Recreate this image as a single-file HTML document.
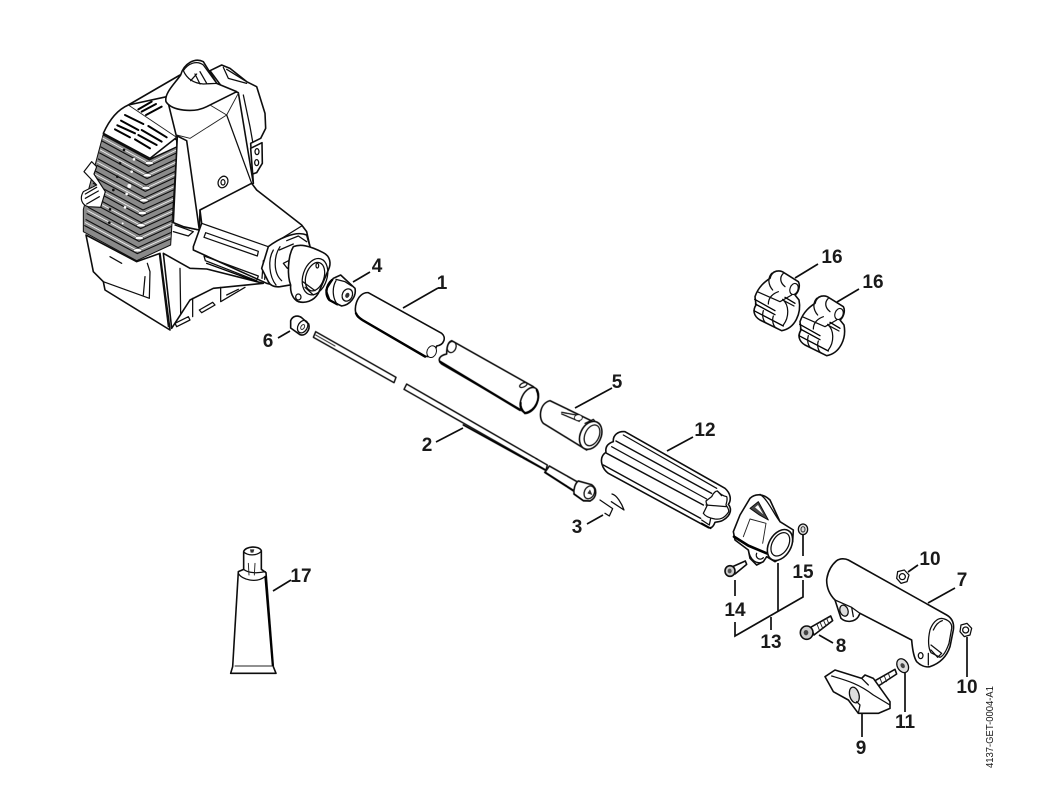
<!DOCTYPE html>
<html><head><meta charset="utf-8"><title>Parts diagram</title>
<style>
html,body{margin:0;padding:0;background:#fff;width:1045px;height:795px;overflow:hidden}
svg{display:block}
text{font-family:"Liberation Sans",sans-serif;font-weight:bold;font-size:19px;fill:#1a1a1a;text-anchor:middle}
.z path,.z ellipse,.z polygon,.z polyline,.z line,.z circle{stroke-linejoin:round;stroke-linecap:round}
.o{fill:#fff;stroke:#111;stroke-width:4.8}
.l{fill:none;stroke:#111;stroke-width:3.8}
.t{fill:none;stroke:#222;stroke-width:2.8}
.b{fill:none;stroke:#000;stroke-width:7}
.ld{stroke:#111;stroke-width:1.7;fill:none}
</style></head><body>
<svg width="1045" height="795" viewBox="0 0 1045 795" xmlns="http://www.w3.org/2000/svg">
<defs><filter id="bl" x="-5%" y="-5%" width="110%" height="110%"><feGaussianBlur stdDeviation="0.35"/></filter></defs>
<rect width="1045" height="795" fill="#fff"/>
<g filter="url(#bl)">

<!-- ENGINE -->
<g class="z" transform="translate(60,50) scale(.33333)">
 <!-- rear housing -->
 <path class="o" d="M450,62 L485,45 L510,55 L560,95 L590,110 L615,190 L617,235 L602,265 L572,280 L580,400 L500,130 Z"/>
 <path class="l" d="M490,52 L505,85 L560,100 M500,58 L555,92 M550,135 L570,230 L578,275"/>
 <!-- lug -->
 <path class="o" d="M572,295 L606,278 L607,340 L590,368 L578,372 Z"/>
 <ellipse class="l" cx="591" cy="305" rx="6" ry="9"/><ellipse class="l" cx="590" cy="338" rx="6" ry="9"/>
 <!-- main housing -->
 <path class="o" d="M205,165 L360,75 L535,128 L580,400 L420,480 L418,540 L370,530 L350,270 Z"/>
 <!-- top plate -->
 <path class="o" d="M130,250 C150,205 175,178 205,165 L320,140 L350,262 L270,325 Z"/>
 <path class="t" d="M205,165 L350,262"/>
 <path class="b" style="stroke-width:6" d="M235,178 L275,155 M245,185 L288,162 M258,195 L305,170"/>
 <path class="b" style="stroke-width:6" d="M195,195 L250,222 M183,212 L235,240 M172,226 L225,250 M165,238 L210,262"/>
 <path class="b" style="stroke-width:6" d="M265,228 L320,262 M245,240 L305,275 M235,255 L290,285 M225,268 L270,295"/>
 <!-- neck -->
 <path class="o" d="M362,75 C372,40 405,22 430,35 L470,100 L530,125 L440,170 C400,190 335,182 318,155 C312,130 345,100 362,75 Z"/>
 <path fill="#fff" stroke="#111" stroke-width="3.8" d="M370,62 C380,85 400,100 430,102 L470,100 L430,45 C410,30 385,40 370,62 Z"/>
 <path class="l" d="M405,72 L420,102 M420,65 L440,100 M392,92 L410,72"/>
 <path class="t" d="M450,165 L500,195 L535,130 M500,195 L390,265 M350,255 L390,265"/>
 <path class="l" d="M500,195 L575,400"/>
 <ellipse class="l" cx="489" cy="396" rx="14" ry="18" transform="rotate(25 489 396)"/><ellipse class="l" cx="489" cy="397" rx="6" ry="8"/>
 <!-- side flap -->
 <path class="o" d="M352,258 L380,272 L418,540 L370,530 L340,518 Z"/>

 <!-- lower body -->
 <path class="o" d="M78,555 L230,635 L300,610 L330,840 L135,720 L130,695 L100,665 Z"/>
 <path class="l" d="M130,695 L268,745 L270,665 L262,640 M150,620 L185,640 M255,680 L250,735 M298,612 L325,830"/>
 <path class="o" d="M310,610 L390,655 L440,657 L610,700 L460,715 L390,750 L335,835 Z"/>
 <path class="l" d="M360,655 L362,790 M398,745 L398,800 M418,780 L458,757 L465,765 L425,788 Z M482,712 L482,755 L555,712 M500,735 L535,718 M345,820 L385,800 L390,810 L350,830 Z"/>

 <!-- gearbox -->
 <path class="o" d="M420,480 L575,400 L590,420 L725,525 L740,545 L750,590 L640,705 L620,700 L400,600 L400,590 L425,520 Z"/>
 <path class="l" d="M425,520 L625,590 L725,528"/>
 <path class="l" d="M437,548 L595,604 L592,618 L432,562 Z M432,618 L595,678 L590,692 L436,632 Z"/>
 <path class="b" style="stroke-width:4" d="M440,640 L590,695"/>
 <path class="l" d="M345,525 L400,545 L385,558 L340,545 M610,632 L606,685 M618,632 L614,688"/>
 <!-- collar -->
 <path class="o" d="M625,590 C650,570 705,540 740,555 L750,590 L720,700 L660,710 C640,712 630,705 625,695 L605,655 Z"/>
 <path class="l" d="M640,600 C622,630 628,680 648,705 M660,590 C640,620 640,670 665,692 M680,572 L715,558 L740,575 M658,600 L700,582 M670,640 L700,625 L710,640 L682,655 Z"/>
 <!-- coupling -->
 <path class="o" d="M700,590 C720,582 745,585 790,608 C810,618 815,640 805,660 L775,730 C760,755 735,760 715,755 C698,748 690,725 692,705 C682,680 682,620 700,590 Z"/>
 <ellipse class="l" cx="765" cy="680" rx="36" ry="56" transform="rotate(18 765 680)"/>
 <ellipse class="l" cx="765" cy="680" rx="27" ry="44" transform="rotate(18 765 680)"/>
 <path class="l" d="M728,695 L765,722 M735,712 L760,735"/>
 <ellipse class="l" cx="772" cy="647" rx="4" ry="7"/>
 <ellipse class="l" cx="715" cy="741" rx="8" ry="9"/>

 <!-- fin block -->
 <path fill="#8a8a8a" stroke="#111" stroke-width="3" d="M130,252 L268,328 L350,290 L332,585 L230,632 L70,545 L70,478 Z"/>
 <g fill="none" stroke="#111" stroke-width="3.4">
  <polyline points="130,255 268,330 348,292"/>
  <polyline points="126,273 266,349 347,310"/>
  <polyline points="123,291 263,368 346,329"/>
  <polyline points="119,309 261,386 345,347"/>
  <polyline points="115,327 258,405 344,365"/>
  <polyline points="111,346 256,424 342,384"/>
  <polyline points="108,364 254,443 341,402"/>
  <polyline points="104,382 251,461 340,420"/>
  <polyline points="100,400 249,480 339,439"/>
  <polyline points="96,418 246,499 338,457"/>
  <polyline points="93,436 244,518 337,475"/>
  <polyline points="89,454 242,536 336,493"/>
  <polyline points="85,472 239,555 335,512"/>
  <polyline points="81,491 237,574 333,530"/>
  <polyline points="78,509 234,593 332,548"/>
  <polyline points="74,527 232,611 331,567"/>
 </g>
 <g fill="none" stroke="#f2f2f2" stroke-width="2.6">
  <polyline points="128,264 267,340 347,301"/>
  <polyline points="121,300 262,377 345,338"/>
  <polyline points="113,337 257,415 343,375"/>
  <polyline points="106,373 252,452 340,411"/>
  <polyline points="98,409 247,490 338,448"/>
  <polyline points="91,445 243,527 336,484"/>
  <polyline points="83,482 238,565 334,521"/>
  <polyline points="76,518 233,602 331,558"/>
 </g>
 <g fill="#fff" stroke="#333" stroke-width="1.5">
  <ellipse cx="268" cy="339" rx="13" ry="5"/><ellipse cx="262" cy="376" rx="13" ry="5"/><ellipse cx="258" cy="414" rx="13" ry="5"/><ellipse cx="252" cy="451" rx="13" ry="5"/><ellipse cx="247" cy="489" rx="13" ry="5"/><ellipse cx="243" cy="526" rx="13" ry="5"/><ellipse cx="238" cy="564" rx="13" ry="5"/><ellipse cx="233" cy="601" rx="13" ry="5"/>
 </g>
 <g fill="#fff"><circle cx="222" cy="328" r="4"/><circle cx="215" cy="365" r="4"/><circle cx="208" cy="408" r="6"/><circle cx="200" cy="432" r="4"/><circle cx="195" cy="472" r="4"/><circle cx="188" cy="520" r="3"/></g>
 <g fill="#111"><circle cx="192" cy="300" r="4"/><circle cx="180" cy="340" r="4"/><circle cx="172" cy="380" r="4"/><circle cx="160" cy="420" r="4"/><circle cx="150" cy="478" r="4"/><circle cx="148" cy="518" r="4"/></g>
 <!-- hook -->
 <path fill="#fff" stroke="#111" stroke-width="3.5" d="M95,335 L72,365 L110,405 L70,425 C58,445 65,465 85,470 L122,472 L136,425 L102,372 L110,350 Z"/>
 <path class="l" d="M80,462 L118,440 M76,445 L115,423 M76,432 L110,412"/>
</g>

<!-- TUBES / SHAFT -->
<g class="z" transform="translate(250,250) scale(.33333)">
 <!-- 4 nut -->
 <path class="o" d="M250,85 L272,75 L315,115 C320,140 300,165 275,168 L240,152 L228,120 Z"/>
 <path class="b" style="stroke-width:7" d="M246,90 C226,108 225,135 238,150 L262,163"/>
 <path class="l" d="M258,88 L285,95 L305,108 M258,92 C245,115 248,145 262,163"/>
 <ellipse class="l" cx="292" cy="135" rx="15" ry="19" transform="rotate(25 292 135)"/>
 <ellipse fill="#333" cx="292" cy="136" rx="6" ry="8" transform="rotate(25 292 136)"/>
 <!-- 6 -->
 <path class="o" d="M122,212 C128,196 145,195 155,203 L176,222 C182,240 165,260 150,254 L122,234 Z"/>
 <ellipse class="l" cx="158" cy="230" rx="14" ry="20" transform="rotate(30 158 230)"/>
 <ellipse class="t" cx="158" cy="231" rx="5" ry="8" transform="rotate(30 158 231)"/>
 <!-- 1a -->
 <path class="o" d="M355,128 L575,250 C590,262 582,285 560,288 C552,312 545,325 525,318 L325,202 C305,185 320,125 355,128 Z"/>
 <path class="b" d="M318,190 C322,200 330,205 340,212 L525,320"/>
 <ellipse class="o" style="stroke-width:3" cx="545" cy="305" rx="14" ry="18" transform="rotate(20 545 305)"/>
 <!-- 1b -->
 <path class="o" d="M605,272 L850,410 C875,430 865,480 830,490 L575,342 C560,328 570,316 590,312 C590,290 595,275 605,272 Z"/>
 <path class="b" d="M570,335 L810,480"/>
 <ellipse class="l" cx="605" cy="291" rx="13" ry="17" transform="rotate(20 605 291)"/>
 <ellipse class="o" cx="838" cy="450" rx="24" ry="40" transform="rotate(25 838 450)"/>
 <path class="b" style="stroke-width:6" d="M860,420 C872,445 860,480 825,490 C815,480 810,470 812,458"/>
 <ellipse class="l" cx="820" cy="405" rx="12" ry="6" transform="rotate(-25 820 405)"/>
 <!-- 5 -->
 <path class="o" d="M900,452 L1040,520 L1010,600 L880,520 C865,505 868,460 900,452 Z"/>
 <path class="l" d="M935,487 L990,497 M935,492 L988,514"/>
 <ellipse class="o" style="stroke-width:2.5" cx="985" cy="503" rx="12" ry="9"/>
 <path class="l" d="M1005,520 L1030,508 L1040,520"/>
 <ellipse class="o" cx="1022" cy="556" rx="31" ry="44" transform="rotate(25 1022 556)"/>
 <ellipse class="l" cx="1026" cy="556" rx="21" ry="33" transform="rotate(25 1026 556)"/>
 <!-- 2 upper shaft -->
 <polygon class="l" style="stroke-width:4.4" points="197,245 438,382 432,398 190,262"/>
 <path class="t" d="M197,255 L255,288"/>
 <!-- 2 lower shaft -->
 <polygon class="l" style="fill:#fff;stroke-width:4.4" points="470,402 892,645 888,660 462,418"/>
 <path class="b" style="stroke-width:5" d="M640,525 L885,660"/>
 <path class="o" d="M898,648 L990,700 L975,725 L885,667 Z"/>
 <path class="b" style="stroke-width:6" d="M885,667 L975,725"/>
 <path class="o" d="M985,693 L1025,704 C1042,716 1042,742 1020,753 L1000,752 L972,732 C970,718 975,700 985,693 Z"/>
 <path class="b" style="stroke-width:5" d="M972,732 L1000,752 L1020,753"/>
 <ellipse class="l" cx="1018" cy="727" rx="15" ry="20" transform="rotate(25 1018 727)"/>
 <path fill="#333" d="M1012,730 L1020,718 L1027,735 Z"/>
 <!-- 3 pin -->
 <path class="l" d="M1050,750 L1088,776 L1078,798 L1065,790 M1086,732 C1100,735 1115,760 1122,780 L1084,755"/>
</g>

<!-- 12 and 13 -->
<g class="z" transform="translate(600,425) scale(.33333)">
 <path class="o" d="M75,20 L375,190 C392,205 395,225 385,238 C395,250 395,270 370,285 C360,292 350,290 345,292 C340,305 335,310 325,308 L25,145 C5,130 0,105 8,92 C12,85 15,85 18,82 C15,65 25,55 40,50 C38,30 55,18 75,20 Z"/>
 <path class="l" style="stroke-width:4.4" d="M48,48 L335,205 M20,85 L310,240 M10,120 L302,280"/>
 <path class="l" d="M70,30 L350,190 M35,65 L320,222"/>
 <path fill="#fff" stroke="#111" stroke-width="3.8" d="M335,215 C340,205 345,198 352,198 C360,205 365,212 380,215 C384,225 378,235 378,240 C385,250 388,258 385,262 C378,272 370,278 365,280 C355,284 350,282 345,282 C335,280 328,278 322,275 C315,272 312,268 310,265 C315,255 320,245 322,240 C318,235 318,230 318,228 Z"/>
 <path class="l" d="M352,198 L365,212 M318,240 L378,245 M305,285 L328,300 L332,280"/>
 <path class="b" style="stroke-width:5" d="M305,295 L332,310"/>
 <!-- 13 -->
 <path class="o" d="M400,320 L420,270 L450,220 C465,205 490,205 510,225 L540,290 L580,315 L578,350 L550,395 L525,410 L500,395 L490,410 L470,420 L450,400 L445,375 L405,345 Z"/>
 <path class="b" style="stroke-width:8" d="M402,335 L445,362 L500,385"/>
 <path class="l" d="M480,208 C505,225 520,265 540,290"/>
 <path fill="#444" stroke="#111" stroke-width="3" d="M450,250 L475,230 L505,285 L478,270 Z"/>
 <path fill="#fff" stroke="none" d="M465,247 L474,240 L490,268 Z"/>
 <path class="t" d="M430,335 L450,282 L498,295 L488,355"/>
 <path class="l" d="M445,375 C450,405 470,420 490,410 M470,385 A12,12 0 0 0 490,398"/>
 <ellipse class="o" cx="540" cy="360" rx="33" ry="50" transform="rotate(30 540 360)"/>
 <ellipse class="l" cx="541" cy="358" rx="24" ry="38" transform="rotate(30 541 358)"/>
 <!-- 15 washer -->
 <ellipse class="l" cx="609" cy="313" rx="14" ry="16" style="fill:#ddd"/>
 <ellipse class="t" cx="609" cy="313" rx="6" ry="8"/>
 <!-- 14 screw -->
 <path class="o" d="M398,425 L436,408 L440,418 L405,447 Z"/>
 <ellipse class="o" cx="390" cy="438" rx="15" ry="16" style="fill:#ccc"/>
 <ellipse fill="#555" cx="389" cy="438" rx="6" ry="7"/>
</g>

<!-- 7, 9 -->
<g class="z" transform="translate(815,550) scale(.33333)">
 <path class="o" d="M65,32 C75,25 90,25 100,30 L395,195 C412,205 418,220 415,240 L405,290 C395,320 375,340 345,350 C330,353 315,345 305,335 C295,320 292,295 290,270 L135,190 L130,200 C120,215 95,220 78,205 L60,150 C45,135 35,115 35,90 C38,65 50,45 65,32 Z"/>
 <ellipse class="l" style="fill:#ddd" cx="87" cy="182" rx="12" ry="17" transform="rotate(-20 87 182)"/>
 <path class="l" d="M60,150 L110,172 L135,190 M110,172 L115,200"/>
 <ellipse class="l" cx="317" cy="317" rx="7" ry="9"/>
 <path class="o" style="stroke-width:3.8" d="M345,240 C352,220 365,205 380,205 C400,208 412,220 410,235 L402,280 C395,300 385,318 375,322 L348,308 C340,295 338,270 345,240 Z"/>
 <path class="l" d="M355,240 C362,225 372,215 382,212 M348,285 L380,310 L368,322 L348,300 M340,310 L340,345"/>
 <!-- nuts -->
 <polygon class="l" points="248,65 268,60 282,75 276,95 258,100 245,85"/>
 <circle class="l" cx="262" cy="80" r="9"/>
 <polygon class="l" points="438,225 456,220 470,235 465,255 448,260 435,245"/>
 <circle class="l" cx="452" cy="240" r="9"/>
 <!-- 11 washer -->
 <ellipse class="l" style="fill:#ddd" cx="263" cy="347" rx="16" ry="22" transform="rotate(-30 263 347)"/>
 <ellipse fill="#444" cx="263" cy="347" rx="6" ry="8" transform="rotate(-30 263 347)"/>
 <!-- 9 knob -->
 <path class="o" d="M180,392 L240,358 L245,372 L190,408 Z"/>
 <path class="t" d="M195,385 L202,402 M208,378 L215,395 M220,370 L226,386"/>
 <path class="o" d="M30,380 L60,360 L140,385 L150,375 L175,385 L225,455 L225,475 L190,490 L130,490 L100,450 L55,425 Z"/>
 <path class="l" d="M50,378 C90,390 130,400 175,435 L225,465 M140,385 L160,405"/>
 <ellipse class="l" style="fill:#ddd" cx="118" cy="435" rx="14" ry="24" transform="rotate(-15 118 435)"/>
 <path class="l" d="M130,490 L135,465 L125,455"/>
</g>

<!-- 8 screw -->
<g class="z" transform="translate(590,410) scale(.33333)">
 <path class="o" d="M662,652 L722,618 L728,632 L672,675 Z"/>
 <path class="t" d="M680,640 L688,660 M690,636 L698,655 M700,630 L708,648 M710,625 L716,640"/>
 <ellipse class="o" cx="650" cy="668" rx="19" ry="20" style="fill:#ccc"/>
 <ellipse fill="#444" cx="648" cy="668" rx="7" ry="8"/>
</g>

<!-- 16 clips -->
<g class="z" transform="translate(730,240) scale(.33333)">
 <path class="o" d="M120,115 C125,90 150,88 165,100 L205,125 C212,138 205,158 195,165 L207,180 C215,220 195,265 155,272 L90,240 C70,228 68,210 78,195 L75,170 C85,140 105,125 120,115 Z"/>
 <path class="l" d="M125,100 C112,115 115,135 128,150 M160,100 C148,112 150,128 165,140 M82,155 L150,185 L185,165"/>
 <path class="b" style="stroke-width:4" d="M74,178 L135,212 M76,192 L135,224 M72,212 L160,258 M165,172 L195,190"/>
 <path class="l" d="M115,192 C115,172 130,160 145,155 M162,182 L192,198"/>
 <ellipse class="o" style="stroke-width:3.4" cx="192" cy="147" rx="12" ry="17" transform="rotate(20 192 147)"/>
 <path class="l" d="M100,212 C95,228 100,245 110,250 M130,228 C125,242 130,260 140,265"/>
 <path class="l" d="M158,178 C178,195 178,232 160,255"/>
 <g transform="translate(135,75)">
  <path class="o" d="M120,115 C125,90 150,88 165,100 L205,125 C212,138 205,158 195,165 L207,180 C215,220 195,265 155,272 L90,240 C70,228 68,210 78,195 L75,170 C85,140 105,125 120,115 Z"/>
  <path class="l" d="M125,100 C112,115 115,135 128,150 M160,100 C148,112 150,128 165,140 M82,155 L150,185 L185,165"/>
  <path class="b" style="stroke-width:4" d="M74,178 L135,212 M76,192 L135,224 M72,212 L160,258 M165,172 L195,190"/>
  <path class="l" d="M115,192 C115,172 130,160 145,155 M162,182 L192,198"/>
  <ellipse class="o" style="stroke-width:3.4" cx="192" cy="147" rx="12" ry="17" transform="rotate(20 192 147)"/>
  <path class="l" d="M100,212 C95,228 100,245 110,250 M130,228 C125,242 130,260 140,265"/>
  <path class="l" d="M158,178 C178,195 178,232 160,255"/>
 </g>
</g>

<!-- 17 tube -->
<g class="z" transform="translate(210,530) scale(.33333)">
 <path class="o" d="M85,125 L101,118 L101,65 C106,48 147,46 154,62 L154,118 L168,128 L190,410 L198,430 L62,430 L68,410 Z"/>
 <path class="l" d="M101,66 C115,78 140,78 154,64 M101,118 C115,130 145,130 166,125 M85,130 C95,150 140,160 165,140"/>
 <path class="t" d="M115,100 L117,135 M135,100 L133,135 M75,408 L190,408"/>
 <path class="b" style="stroke-width:6" d="M166,140 L188,405"/>
 <path fill="#333" d="M120,58 L133,58 L130,68 L122,68 Z"/>
</g>

<!-- LEADERS -->
<g class="ld">
 <line x1="403" y1="308" x2="438" y2="288"/>
 <line x1="463" y1="428" x2="436" y2="442"/>
 <line x1="603" y1="515" x2="587" y2="524"/>
 <line x1="353" y1="282" x2="370" y2="272"/>
 <line x1="575" y1="408" x2="612" y2="388"/>
 <line x1="290" y1="331" x2="278" y2="338"/>
 <line x1="667" y1="451" x2="693" y2="437"/>
 <line x1="928" y1="603" x2="955" y2="588"/>
 <line x1="908" y1="572" x2="918" y2="565"/>
 <line x1="967" y1="637" x2="967" y2="677"/>
 <line x1="819" y1="635" x2="833" y2="643"/>
 <line x1="862" y1="713" x2="862" y2="737"/>
 <line x1="905" y1="673" x2="905" y2="712"/>
 <line x1="778" y1="563" x2="778" y2="611"/>
 <polyline points="735,622 735,636 803,597 803,580"/>
 <line x1="735" y1="580" x2="735" y2="596"/>
 <line x1="803" y1="534" x2="803" y2="556"/>
 <line x1="771" y1="617" x2="771" y2="630"/>
 <line x1="795" y1="278" x2="818" y2="264"/>
 <line x1="837" y1="302" x2="859" y2="289"/>
 <line x1="273" y1="591" x2="291" y2="580"/>
</g>
</g>

<!-- LABELS -->
<text x="442" y="289">1</text>
<text x="427" y="451">2</text>
<text x="577" y="533">3</text>
<text x="377" y="272">4</text>
<text x="617" y="388">5</text>
<text x="268" y="347">6</text>
<text x="962" y="586">7</text>
<text x="841" y="652">8</text>
<text x="861" y="754">9</text>
<text x="930" y="565">10</text>
<text x="967" y="693">10</text>
<text x="905" y="728">11</text>
<text x="705" y="436">12</text>
<text x="771" y="648">13</text>
<text x="735" y="616">14</text>
<text x="803" y="578">15</text>
<text x="832" y="263">16</text>
<text x="873" y="288">16</text>
<text x="301" y="582">17</text>
<text transform="translate(993,768) rotate(-90)" x="0" y="0" textLength="82" lengthAdjust="spacingAndGlyphs" style="font-size:10px;font-weight:normal;text-anchor:start">4137-GET-0004-A1</text>
</svg>
</body></html>
